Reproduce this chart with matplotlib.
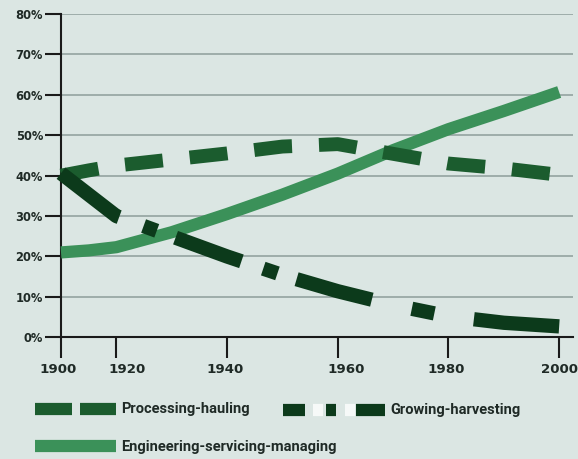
import numpy as np
import matplotlib
matplotlib.use("Agg")
import matplotlib.pyplot as plt
from matplotlib.lines import Line2D
from matplotlib.transforms import ScaledTranslation

# ---------------- data (percent of workers)
years = [1900, 1910, 1920, 1930, 1940, 1950, 1960, 1970, 1980, 1990, 2000]
processing = [40.0, 41.3, 42.5, 44.0, 45.5, 47.2, 47.8, 45.4, 43.0, 41.8, 40.2]
growing = [40.6, 35.3, 30.0, 25.0, 20.0, 15.4, 11.4, 8.0, 5.2, 3.6, 2.7]
engineering = [21.0, 21.5, 22.3, 26.0, 30.5, 35.3, 40.5, 46.3, 51.5, 56.0, 60.7]

tick_years = [1900, 1920, 1940, 1960, 1980, 2000]
y_ticks = [0, 10, 20, 30, 40, 50, 60, 70, 80]
names = ["Processing-hauling", "Growing-harvesting", "Engineering-servicing-managing"]

bg = "#dbe6e3"
c_proc = "#1b5c2e"
c_grow = "#0c3a1b"
c_eng = "#3b9159"
c_text = "#1f2a26"

plt.rcParams["lines.scale_dashes"] = False
W, H = 578, 459
fig = plt.figure(figsize=(W / 100, H / 100), dpi=100, facecolor=bg)
ax = fig.add_axes([61 / W, 1 - 337.3 / H, (573 - 61) / W, (337.3 - 14) / H])
ax.set_facecolor(bg)

# first 20 years are drawn half as wide as the others
def fwd(x):
    x = np.asarray(x, dtype=float)
    return np.where(x < 1920, 1920 + (x - 1920) * 0.5, x)

def inv(x):
    x = np.asarray(x, dtype=float)
    return np.where(x < 1920, 1920 + (x - 1920) * 2.0, x)

ax.set_xscale("function", functions=(fwd, inv))
ax.set_xlim(1900, 2002.5)
ax.set_ylim(0, 80)

# ---------------- grid
for v in y_ticks[1:]:
    ax.axhline(v, color="#8e9d9a", lw=1.1, zorder=1)

# ---------------- lines
px = 0.72  # pixel -> point
ax.plot(years, engineering, color=c_eng, lw=8.8, solid_capstyle="butt",
        solid_joinstyle="round", clip_on=False, zorder=3)
ax.plot(years, processing, color=c_proc, lw=10, dashes=(38 * px, 27 * px),
        dash_capstyle="butt", clip_on=False, zorder=4)
# the dash-dot spacing opens up towards the right in the original
grow_dash = [73, 26, 14, 20, 70, 23, 15, 20, 78, 41, 23, 40, 90, 20]
ax.plot(years, growing, color=c_grow, lw=10.3,
        dashes=[d * px for d in grow_dash],
        dash_capstyle="butt", clip_on=False, zorder=5)

# ---------------- axes styling
for s in ["top", "right"]:
    ax.spines[s].set_visible(False)
for s in ["left", "bottom"]:
    ax.spines[s].set_linewidth(1.5)
    ax.spines[s].set_color("#1a1a1a")

ax.set_yticks(y_ticks)
ax.set_yticklabels([f"{v}%" for v in y_ticks])
ax.set_xticks(tick_years)
ax.set_xticklabels([str(y) for y in tick_years])
ax.xaxis.set_minor_locator(matplotlib.ticker.NullLocator())
ax.tick_params(axis="y", direction="out", length=11.5, width=1.5, pad=1.5,
               colors="#1a1a1a", labelcolor=c_text)
ax.tick_params(axis="x", direction="out", length=15, width=1.5, pad=3.5,
               colors="#1a1a1a", labelcolor=c_text)
for lab in ax.get_yticklabels():
    lab.set_fontfamily("DejaVu Sans")
    lab.set_fontweight("bold")
    lab.set_fontsize(8.3)

# x labels are not quite centred under their ticks in the original
label_shift = [-3, 11, -2, 8, -2, 0]
for lab, dx in zip(ax.get_xticklabels(), label_shift):
    lab.set_fontfamily("DejaVu Sans")
    lab.set_fontweight("bold")
    lab.set_fontsize(9.6)
    lab.set_transform(lab.get_transform() + ScaledTranslation(dx / 100, 0, fig.dpi_scale_trans))

# ---------------- legend drawn by hand
def fx(x):
    return x / W

def fy(y):
    return 1 - y / H

font = dict(family=["Roboto", "DejaVu Sans"], fontweight="bold", fontsize=10.5,
            color=c_text, va="center", ha="left")

fig.add_artist(Line2D([fx(35), fx(116)], [fy(409), fy(409)], color=c_proc, lw=8.8,
                      dashes=(37 * px, 8 * px), dash_capstyle="butt"))
fig.text(fx(121), fy(409), names[0], **font)

fig.add_artist(Line2D([fx(313), fx(355)], [fy(410), fy(410)], color="#f6f9f8", lw=8.8,
                      dashes=(10 * px, 22 * px, 10 * px, 50 * px), dash_capstyle="butt"))
fig.add_artist(Line2D([fx(283), fx(385)], [fy(410), fy(410)], color=c_grow, lw=8.8,
                      dashes=(22 * px, 21 * px, 10 * px, 20 * px, 30 * px, 10 * px),
                      dash_capstyle="butt"))
fig.text(fx(390), fy(410), names[1], **font)

fig.add_artist(Line2D([fx(35), fx(116)], [fy(446), fy(446)], color=c_eng, lw=8.8,
                      solid_capstyle="butt"))
fig.text(fx(121), fy(447), names[2], **font)

plt.savefig("out.png", dpi=100, facecolor=bg)
